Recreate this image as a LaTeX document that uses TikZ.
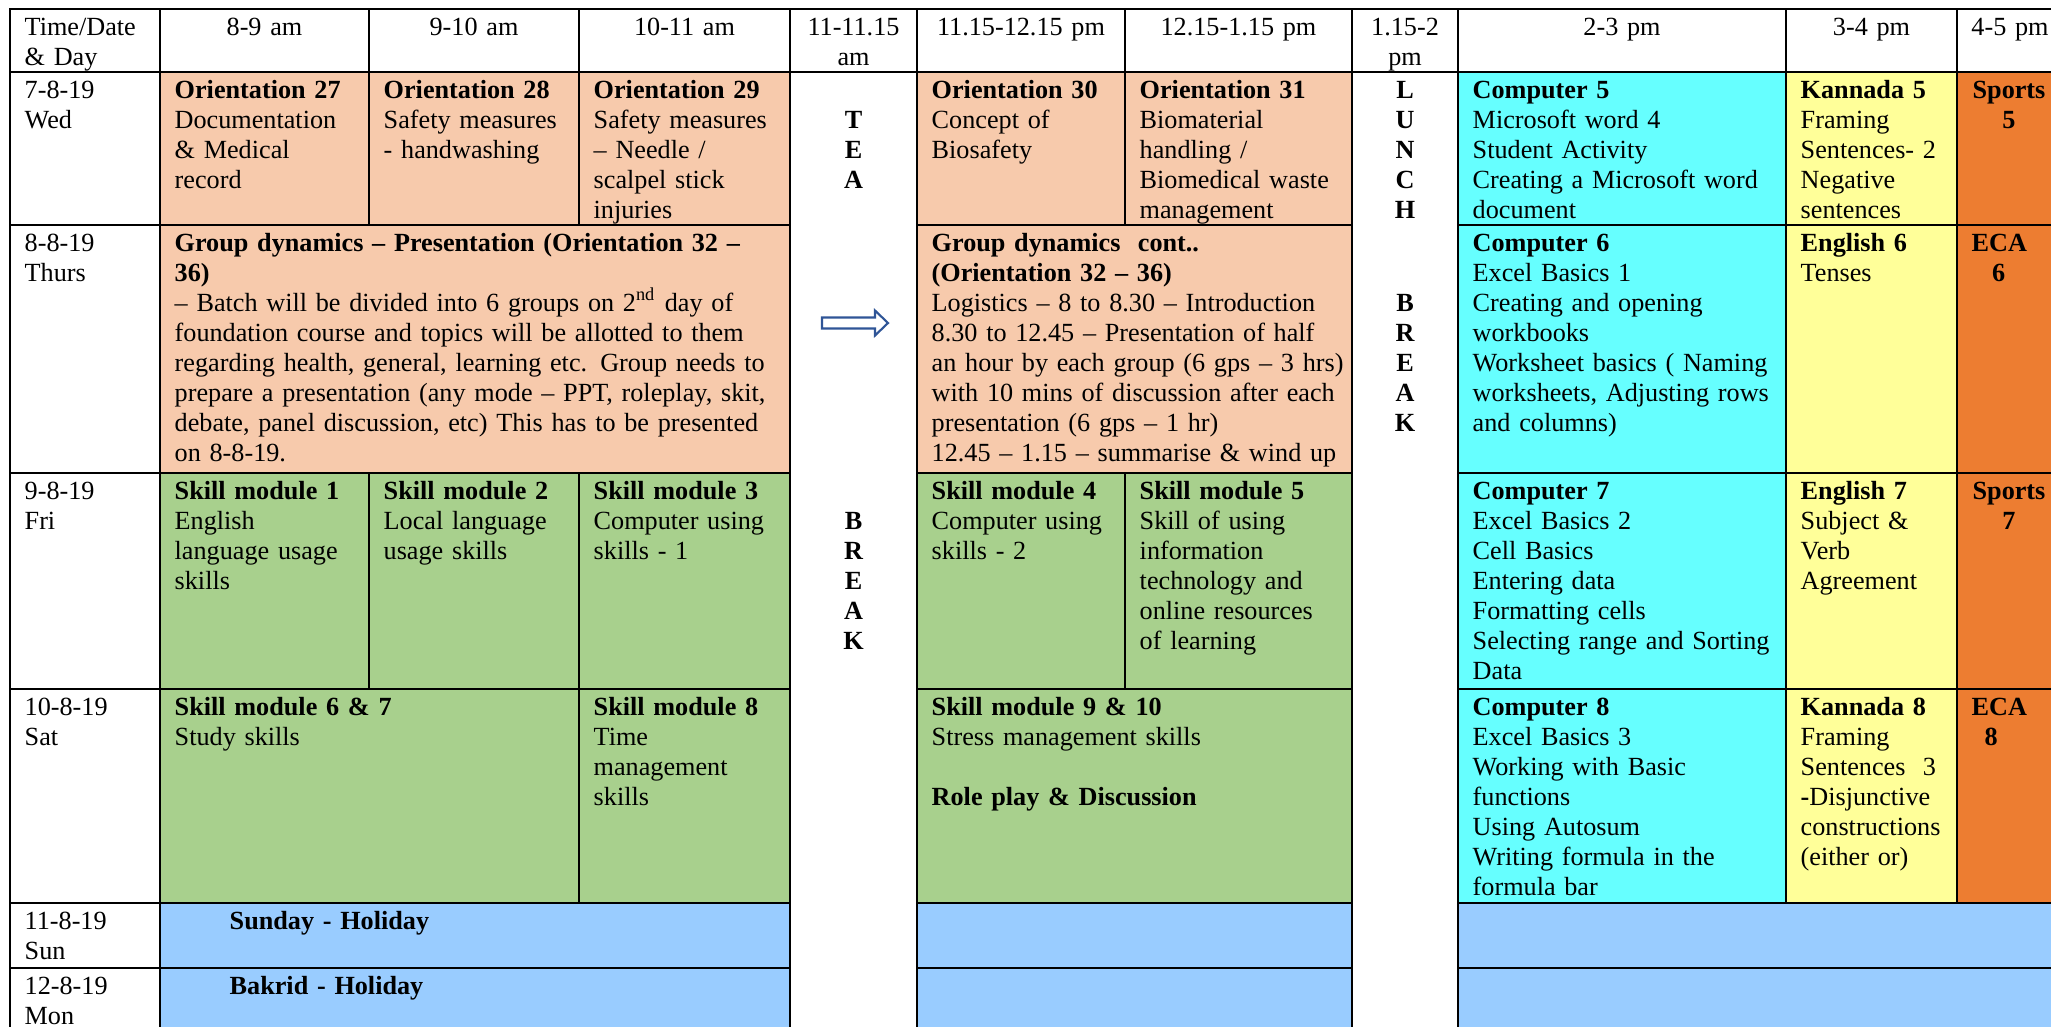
\documentclass[tikz,border=0pt]{standalone}
\usepackage{fontspec}
\setmainfont{Liberation Serif}
\newcommand{\cellfont}{\fontsize{7.45pt}{8.54pt}\selectfont}
\definecolor{peach}{HTML}{F7CAAC}
\definecolor{leaf}{HTML}{A8D08D}
\definecolor{aqua}{HTML}{66FFFF}
\definecolor{lemon}{HTML}{FFFF99}
\definecolor{sport}{HTML}{ED7D31}
\definecolor{holiday}{HTML}{99CCFF}
\definecolor{arrowblue}{HTML}{2F5597}

\begin{document}
\begin{tikzpicture}[x=0.01cm,y=-0.01cm,
    grid line/.style={line width=0.8pt,line cap=rect},
    cell/.style={anchor=base west,align=left,text width=6.4cm,inner sep=0pt,font=\cellfont},
    mid/.style={anchor=base,align=center,text width=2cm,inner sep=0pt,font=\cellfont},
    letters/.style={mid,font=\cellfont\bfseries}]
  \useasboundingbox (0,0) rectangle (2051,1026);
  \clip (0,0) rectangle (2051,1026);

  % cell colours
  \fill[peach] (160,72) rectangle (790,473) (917,72) rectangle (1352,473);
  \fill[leaf] (160,473) rectangle (790,903) (917,473) rectangle (1352,903);
  \fill[aqua] (1458,72) rectangle (1786,903);
  \fill[lemon] (1786,72) rectangle (1957,903);
  \fill[sport] (1957,72) rectangle (2063,903);
  \fill[holiday] (160,903) rectangle (790,1040) (917,903) rectangle (1352,1040)
                 (1458,903) rectangle (2063,1040);

  % borders
  \draw[grid line] (10,9) -- (2063,9) (10,72) -- (2063,72);
  \foreach \y in {225,473,689,903,968}
    \draw[grid line] (10,\y) -- (790,\y) (917,\y) -- (1352,\y) (1458,\y) -- (2063,\y);
  \foreach \x in {10,160,790,917,1352,1458}
    \draw[grid line] (\x,9) -- (\x,1040);
  \draw[grid line] (369,9) -- (369,225) (369,473) -- (369,689);
  \draw[grid line] (579,9) -- (579,225) (579,473) -- (579,903);
  \draw[grid line] (1125,9) -- (1125,225) (1125,473) -- (1125,689);
  \draw[grid line] (1786,9) -- (1786,903) (1957,9) -- (1957,903);

  % header
  \node[cell] (hday) at (24,35) {Time/Date\\\& Day};
  \node[mid] (h1) at (264.5,35) {8-9 am};
  \node[mid] (h2) at (474,35) {9-10 am};
  \node[mid] (h3) at (684.5,35) {10-11 am};
  \node[mid] (htea) at (853.5,35) {11-11.15\\am};
  \node[mid] (h4) at (1021,35) {11.15-12.15 pm};
  \node[mid] (h5) at (1238.5,35) {12.15-1.15 pm};
  \node[mid] (hlunch) at (1405,35) {1.15-2\\pm};
  \node[mid] (h6) at (1622,35) {2-3 pm};
  \node[mid] (h7) at (1871.5,35) {3-4 pm};
  \node[mid] (h8) at (2010,35) {4-5 pm};

  % breaks
  \node[letters] (tea) at (853.5,128) {T\\E\\A};
  \node[letters] (teabreak) at (853.5,529) {B\\R\\E\\A\\K};
  \node[letters] (lunch) at (1405,98) {L\\U\\N\\C\\H};
  \node[letters] (lunchbreak) at (1405,311) {B\\R\\E\\A\\K};
  \draw[arrowblue,line width=0.6pt,fill=white] (822,317.5) -- (875,317.5) -- (875,310.5)
    -- (888,323) -- (875,335.5) -- (875,328.5) -- (822,328.5) -- cycle;

  % Wed
  \node[cell] (wed) at (24,98) {7-8-19\\Wed};
  \node[cell] (o27) at (174,98) {\textbf{Orientation 27}\\Documentation\\\& Medical\\record};
  \node[cell] (o28) at (383,98) {\textbf{Orientation 28}\\Safety measures\\- handwashing};
  \node[cell] (o29) at (593,98) {\textbf{Orientation 29}\\Safety measures\\-- Needle /\\scalpel stick\\injuries};
  \node[cell] (o30) at (931,98) {\textbf{Orientation 30}\\Concept of\\Biosafety};
  \node[cell] (o31) at (1139,98) {\textbf{Orientation 31}\\Biomaterial\\handling /\\Biomedical waste\\management};
  \node[cell] (c5) at (1472,98) {\textbf{Computer 5}\\Microsoft word 4\\Student Activity\\Creating a Microsoft word\\document};
  \node[cell] (k5) at (1800,98) {\textbf{Kannada 5}\\Framing\\Sentences- 2\\Negative\\sentences};
  \node[mid,font=\cellfont\bfseries] (sp5) at (2009,98) {Sports\\5};

  % Thurs
  \node[cell] (thu) at (24,251) {8-8-19\\Thurs};
  \node[cell] (gd) at (174,251) {\textbf{Group dynamics -- Presentation (Orientation 32 --}\\\textbf{36)}\\-- Batch will be divided into 6 groups on 2\textsuperscript{nd} day of\\foundation course and topics will be allotted to them\\regarding health, general, learning etc. Group needs to\\prepare a presentation (any mode -- PPT, roleplay, skit,\\debate, panel discussion, etc) This has to be presented\\on 8-8-19.};
  \node[cell] (gdc) at (931,251) {\textbf{Group dynamics\ \ cont..}\\\textbf{(Orientation 32 -- 36)}\\Logistics -- 8 to 8.30 -- Introduction\\8.30 to 12.45 -- Presentation of half\\an hour by each group (6 gps -- 3 hrs)\\with 10 mins of discussion after each\\presentation (6 gps -- 1 hr)\\12.45 -- 1.15 -- summarise \& wind up};
  \node[cell] (c6) at (1472,251) {\textbf{Computer 6}\\Excel Basics 1\\Creating and opening\\workbooks\\Worksheet basics (\ Naming\\worksheets, Adjusting rows\\and columns)};
  \node[cell] (e6) at (1800,251) {\textbf{English 6}\\Tenses};
  \node[cell,font=\cellfont\bfseries] (eca6) at (1971,251) {ECA\\\hspace*{5.8pt}6};

  % Fri
  \node[cell] (fri) at (24,499) {9-8-19\\Fri};
  \node[cell] (sm1) at (174,499) {\textbf{Skill module 1}\\English\\language usage\\skills};
  \node[cell] (sm2) at (383,499) {\textbf{Skill module 2}\\Local language\\usage skills};
  \node[cell] (sm3) at (593,499) {\textbf{Skill module 3}\\Computer using\\skills - 1};
  \node[cell] (sm4) at (931,499) {\textbf{Skill module 4}\\Computer using\\skills - 2};
  \node[cell] (sm5) at (1139,499) {\textbf{Skill module 5}\\Skill of using\\information\\technology and\\online resources\\of learning};
  \node[cell] (c7) at (1472,499) {\textbf{Computer 7}\\Excel Basics 2\\Cell Basics\\Entering data\\Formatting cells\\Selecting range and Sorting\\Data};
  \node[cell] (e7) at (1800,499) {\textbf{English 7}\\Subject \&\\Verb\\Agreement};
  \node[mid,font=\cellfont\bfseries] (sp7) at (2009,499) {Sports\\7};

  % Sat
  \node[cell] (sat) at (24,715) {10-8-19\\Sat};
  \node[cell] (sm67) at (174,715) {\textbf{Skill module 6 \& 7}\\Study skills};
  \node[cell] (sm8) at (593,715) {\textbf{Skill module 8}\\Time\\management\\skills};
  \node[cell] (sm910) at (931,715) {\textbf{Skill module 9 \& 10}\\Stress management skills\\\mbox{}\\\textbf{Role play \& Discussion}};
  \node[cell] (c8) at (1472,715) {\textbf{Computer 8}\\Excel Basics 3\\Working with Basic\\functions\\Using Autosum\\Writing formula in the\\formula bar};
  \node[cell] (k8) at (1800,715) {\textbf{Kannada 8}\\Framing\\Sentences\ \ 3\\\textbf{-}Disjunctive\\constructions\\(either or)};
  \node[cell,font=\cellfont\bfseries] (eca8) at (1971,715) {ECA\\\hspace*{3.7pt}8};

  % Sun, Mon
  \node[cell] (sun) at (24,929) {11-8-19\\Sun};
  \node[cell] (sunhol) at (229,929) {\textbf{Sunday - Holiday}};
  \node[cell] (mon) at (24,994) {12-8-19\\Mon};
  \node[cell] (monhol) at (229,994) {\textbf{Bakrid - Holiday}};
\end{tikzpicture}
\end{document}
